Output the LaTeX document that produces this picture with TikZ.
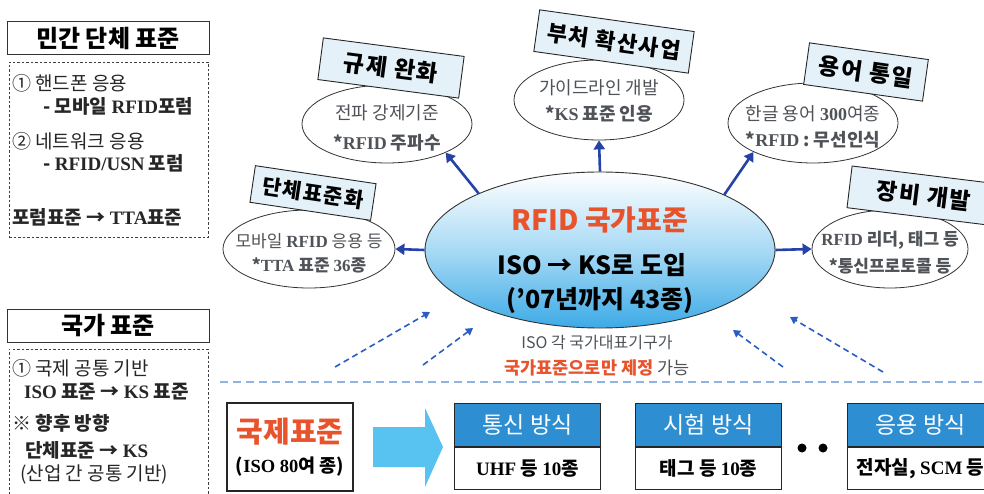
\documentclass[tikz,border=0pt]{standalone}
\usepackage{fontspec}
\setmainfont{Noto Sans CJK KR}
\newfontfamily\ser{Liberation Serif}
\newfontfamily\krsp[LetterSpace=7]{Noto Sans CJK KR}
\usetikzlibrary{arrows.meta,shapes.geometric}
\definecolor{lblue}{HTML}{E4F1F9}
\definecolor{barrowc}{HTML}{2442A8}
\definecolor{dashc}{HTML}{2A5CC4}
\definecolor{hlinec}{HTML}{8FB4E4}
\definecolor{hdrc}{HTML}{2E8ED2}
\definecolor{orng}{HTML}{E8532C}
\definecolor{tgray}{HTML}{4F5358}
\definecolor{blockc}{HTML}{58C2F0}
\definecolor{ellbot}{HTML}{3DAAE6}
\definecolor{ellmid}{HTML}{A8DAF5}
\newcommand{\fs}[1]{\fontsize{#1}{#1}\selectfont}
\begin{document}
\begin{tikzpicture}[x=1pt,y=-1pt,
 sat/.style={ellipse, draw=black!80, line width=0.8pt, fill=white, inner sep=0pt},
 st/.style={text=tgray, font=\fs{18}, inner sep=0pt},
 stb/.style={st, font=\fs{18}\bfseries},
 lbl/.style={draw=black!85, fill=lblue, line width=0.9pt, minimum height=42pt, font=\krsp\bfseries\fs{23}, inner sep=0pt},
 barrow/.style={draw=barrowc, line width=2.6pt, -{Triangle[length=9pt,width=11pt]}},
 darrow/.style={draw=dashc, line width=1.6pt, dash pattern=on 6pt off 4pt, -{Triangle[length=7pt,width=8pt]}},
 ttl/.style={draw=black!80, line width=1pt, fill=white, minimum width=202pt, minimum height=33pt, font=\fs{24}\bfseries},
 dbox/.style={draw=black!75, line width=0.9pt, dash pattern=on 2.5pt off 2pt},
 lt/.style={anchor=west, text=black!85, font=\fs{19}, inner sep=0pt},
 ltb/.style={lt, font=\fs{19}\bfseries},
 hdr/.style={draw=black!85, line width=1pt, fill=hdrc, text=white, minimum width=146pt, minimum height=43pt, font=\fs{23}, anchor=north west},
 cell/.style={draw=black!85, line width=1pt, fill=white, minimum width=146pt, minimum height=42pt, font=\fs{19}\bfseries, anchor=north}
]
\useasboundingbox (0,0) rectangle (984,494);
\fill[white] (0,0) rectangle (984,494);

% ---- left column
\node[ttl] (t1) at (108,38.5) {민간 단체 표준};
\node[dbox, minimum width=199pt, minimum height=175pt] (d1) at (108.5,149.5) {};
\node[lt] (l1) at (12,83) {① 핸드폰 응용};
\node[ltb] (l2) at (43,106) {- 모바일 {\ser RFID}포럼};
\node[lt] (l3) at (12,141) {② 네트워크 응용};
\node[ltb] (l4) at (43,163) {- {\ser RFID/USN} 포럼};
\node[ltb] (l5) at (12,217) {포럼표준 → {\ser TTA}표준};

\node[ttl] (t2) at (108,325.5) {국가 표준};
\coordinate (db1) at (9,494); \coordinate (db2) at (9,349);
\coordinate (db3) at (208,349); \coordinate (db4) at (208,494);
\draw[dbox] (db1) -- (db2) -- (db3) -- (db4);
\node[lt] (l6) at (12,368) {① 국제 공통 기반};
\node[ltb] (l7) at (24,392) {{\ser ISO} 표준 → {\ser KS} 표준};
\node[ltb] (l8) at (12,423) {※ 향후 방향};
\node[ltb] (l9) at (25,450) {단체표준 → {\ser KS}};
\node[lt] (l10) at (20,475) {(산업 간 공통 기반)};

% ---- central ellipse
\node[ellipse, draw=black!80, line width=0.9pt, minimum width=350pt, minimum height=156pt,
  top color=white, bottom color=ellbot, middle color=ellmid] (c) at (600,250) {};
\node[font=\fs{28}\bfseries, text=orng] (c1) at (600,220) {RFID 국가표준};
\node[font=\fs{25}\bfseries] (c2) at (592,265) {ISO → KS로 도입};
\node[font=\fs{25}\bfseries] (c3) at (600,301) {(’07년까지 43종)};

% ---- satellites
\node[sat, minimum width=170pt, minimum height=78pt] (e1) at (387,124) {};
\node[st] (e1a) at (387,113) {전파 강제기준};
\node[stb] (e1b) at (387,143) {*{\ser RFID} 주파수};

\node[sat, minimum width=170pt, minimum height=80pt] (e2) at (599,100) {};
\node[st] (e2a) at (599,88) {가이드라인 개발};
\node[stb] (e2b) at (599,114) {*{\ser KS} 표준 인용};

\node[sat, minimum width=170pt, minimum height=80pt] (e3) at (813,123) {};
\node[st] (e3a) at (813,114) {한글 용어 {\ser\bfseries 300}여종};
\node[stb] (e3b) at (813,140) {*{\ser RFID} : 무선인식};

\node[sat, minimum width=156pt, minimum height=78pt] (e4) at (890,249) {};
\node[stb, font=\fs{17}\bfseries] (e4a) at (890,240) {{\ser RFID} 리더, 태그 등};
\node[stb, font=\fs{17}\bfseries] (e4b) at (890,266) {*통신프로토콜 등};

\node[sat, minimum width=172pt, minimum height=78pt] (e5) at (309,249) {};
\node[st, font=\fs{17}] (e5a) at (309,241) {모바일 {\ser\bfseries RFID} 응용 등};
\node[stb, font=\fs{17}\bfseries] (e5b) at (309,265) {*{\ser TTA} 표준 {\ser 36}종};

% ---- rotated labels
\node[lbl, rotate=-7.5, minimum width=142pt] (L1) at (391,68) {규제 완화};
\node[lbl, rotate=-8, minimum width=156pt, font=\krsp\bfseries\fs{22}] (L2) at (614,41.5) {부처 확산사업};
\node[lbl, rotate=-8, minimum width=120pt] (L3) at (866,72) {용어 통일};
\node[lbl, rotate=-7, minimum width=150pt] (L4) at (924,196) {장비 개발};
\node[lbl, rotate=-8.5, minimum width=122pt, minimum height=37pt, font=\krsp\bfseries\fs{21}] (L5) at (313,193) {단체표준화};

% ---- solid arrows
\draw[barrow] (c.north) -- (e2.south);
\draw[barrow] (c.155) -- (e1.-26);
\draw[barrow] (c.24) -- (e3.206);
\draw[barrow] (c.west) -- (e5.east);
\draw[barrow] (c.east) -- (e4.west);

% ---- dashed arrows
\coordinate (da1s) at (335,367); \coordinate (da1e) at (430,312);
\coordinate (da2s) at (423,365); \coordinate (da2e) at (473,328);
\coordinate (da3s) at (783,367); \coordinate (da3e) at (733,330);
\coordinate (da4s) at (883,372); \coordinate (da4e) at (790,317);
\draw[darrow] (da1s) -- (da1e);
\draw[darrow] (da2s) -- (da2e);
\draw[darrow] (da3s) -- (da3e);
\draw[darrow] (da4s) -- (da4e);

\node[font=\fs{16}, text=tgray] (u1) at (597,343) {ISO 각 국가대표기구가};
\node[font=\fs{17.5}] (u2) at (597,368) {{\bfseries\color{orng}국가표준으로만 제정} {\color{tgray}가능}};

% ---- divider
\coordinate (hl1) at (220,382); \coordinate (hl2) at (984,382);
\draw[hlinec, line width=1.5pt, dash pattern=on 8pt off 5pt] (hl1) -- (hl2);

% ---- bottom row
\node[draw=black!85, line width=1.2pt, fill=white, minimum width=126pt, minimum height=88pt] (ib) at (290,447) {};
\node[font=\fs{29}\bfseries, text=orng] (ib1) at (290,432) {국제표준};
\node[font=\fs{18.5}\bfseries] (ib2) at (290,467) {({\ser ISO 80}여 종)};

\fill[blockc] (373,427) -- (425,427) -- (425,408) -- (443,447) -- (425,487) -- (425,467) -- (373,467) -- cycle;

\node[hdr] (h1) at (454,403) {통신 방식};
\node[cell] (b1) at (h1.south) {{\ser UHF} 등 {\ser 10}종};
\node[hdr] (h2) at (635,403) {시험 방식};
\node[cell] (b2) at (h2.south) {태그 등 {\ser 10}종};
\node[hdr] (h3) at (847,403) {응용 방식};
\node[cell] (b3) at (h3.south) {전자실, {\ser SCM} 등};

\node[circle, fill=black, minimum size=9pt, inner sep=0pt] (dot1) at (802,448) {};
\node[circle, fill=black, minimum size=9pt, inner sep=0pt] (dot2) at (823,448) {};
\end{tikzpicture}
\end{document}
